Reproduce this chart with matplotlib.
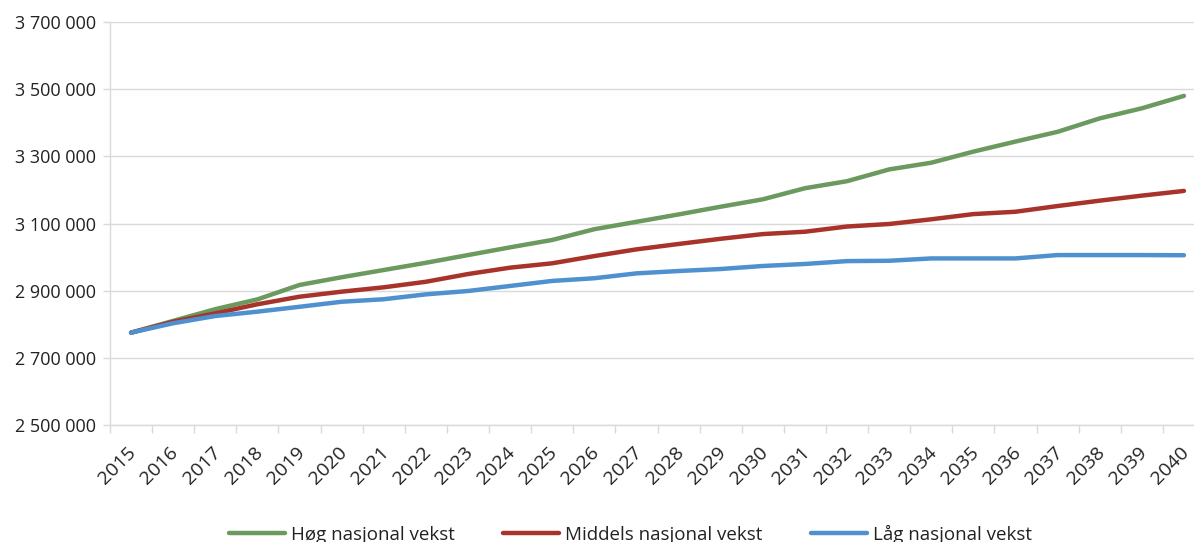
import numpy as np
import matplotlib
matplotlib.use("Agg")
import matplotlib.pyplot as plt
import matplotlib.transforms as mtransforms
from matplotlib.ticker import FuncFormatter

plt.rcParams['font.family'] = ['Open Sans', 'DejaVu Sans']

years = [str(y) for y in range(2015, 2041)]

hoeg = [2775000, 2810000, 2845000, 2874000, 2917000, 2940000, 2961500, 2983000,
        3006000, 3029000, 3051000, 3083000, 3105000, 3127000, 3150000, 3172000,
        3205000, 3226000, 3261000, 3281000, 3314000, 3344000, 3373000, 3413000,
        3443000, 3480000]
middels = [2775000, 2807500, 2832500, 2859500, 2882000, 2897000, 2910000, 2926500,
           2949500, 2968500, 2981500, 3003000, 3023000, 3039000, 3054500, 3068500,
           3075500, 3091000, 3098500, 3112500, 3128000, 3135000, 3152000, 3168000,
           3183000, 3197000]
laag = [2775000, 2803000, 2824500, 2837500, 2852000, 2867000, 2874500, 2889000,
        2899000, 2914000, 2929000, 2937000, 2951500, 2958500, 2964500, 2973500,
        2979500, 2988000, 2989000, 2996000, 2996000, 2996000, 3006000, 3006000,
        3006000, 3005500]

series = [
    ("Høg nasjonal vekst", hoeg, "#6b9a5f"),
    ("Middels nasjonal vekst", middels, "#a8332b"),
    ("Låg nasjonal vekst", laag, "#4f91cf"),
]

fig = plt.figure(figsize=(11.94, 5.42), dpi=100)
ax = fig.add_axes([110/1194, 1-425/542, (1205-110)/1194, (425-22)/542])

x = np.arange(len(years))
for name, vals, col in series:
    ax.plot(x, vals, color=col, lw=3.2, label=name, solid_capstyle='round',
            solid_joinstyle='round')

ax.set_ylim(2500000, 3700000)
ax.set_yticks(np.arange(2500000, 3700001, 200000))
ax.yaxis.set_major_formatter(FuncFormatter(lambda v, p: f"{v:,.0f}".replace(",", " ")))
ax.set_xlim(-0.5, len(years) - 0.5)

# category ticks between categories, labels drawn as text at centers
ax.set_xticks(np.arange(-0.5, len(years), 1.0))
ax.set_xticklabels([])
ax.tick_params(axis='x', length=6, color='#d9d9d9', width=1)
ax.tick_params(axis='y', length=5, color='#d9d9d9', width=1, labelsize=13,
               labelcolor='#222222', pad=5)

trans = mtransforms.blended_transform_factory(ax.transData, ax.transAxes)
trans = trans + mtransforms.ScaledTranslation(-4/100, -18/100, fig.dpi_scale_trans)
for i, yr in enumerate(years):
    ax.text(i, 0, yr, transform=trans, rotation=45, rotation_mode='anchor',
            ha='right', va='top', fontsize=14, color='#222222')

ax.grid(axis='y', color='#d9d9d9', lw=1)
ax.set_axisbelow(True)
for s in ['top', 'right']:
    ax.spines[s].set_visible(False)
for s in ['left', 'bottom']:
    ax.spines[s].set_color('#d9d9d9')
    ax.spines[s].set_linewidth(1)

fig.legend(loc='center', bbox_to_anchor=(0.528, 0.014), ncol=3, frameon=False,
           fontsize=13.5, handlelength=3.0, handletextpad=0.3, columnspacing=2.6,
           labelcolor='#222222')

fig.savefig("out.png", dpi=100)
